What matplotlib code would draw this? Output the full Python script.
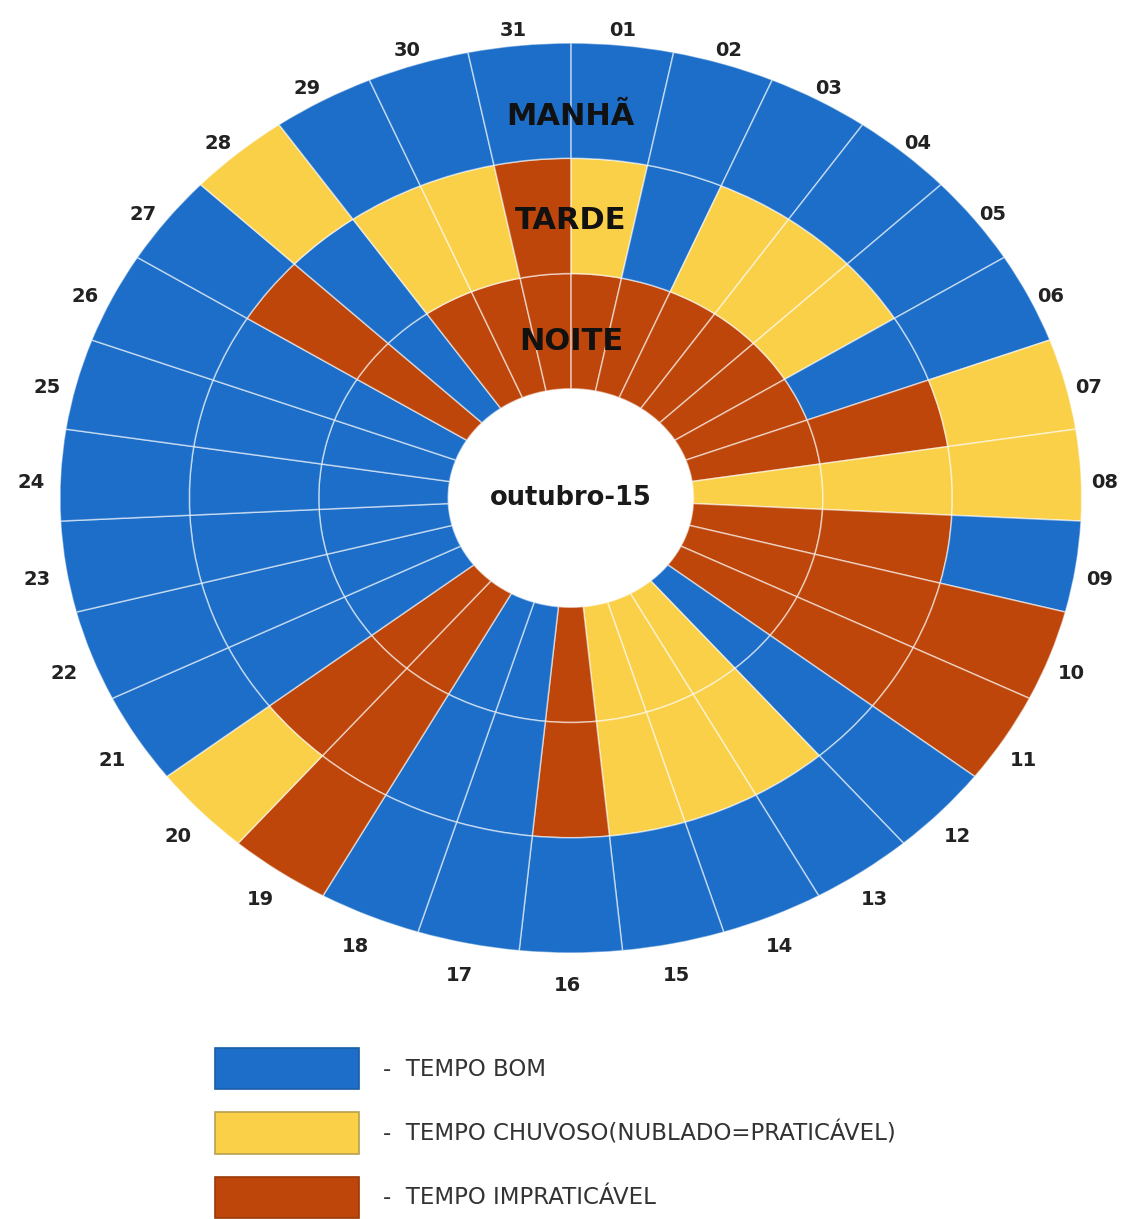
import numpy as np
import matplotlib.pyplot as plt
from matplotlib.patches import Patch
from matplotlib.transforms import ScaledTranslation

# one entry per day of the month, B = tempo bom, Y = chuvoso, R = impraticável
days = [f'{d:02d}' for d in range(1, 32)]
manha = list('BBBBBBYYBRRBBBBBBBRYBBBBBBBYBBB')
tarde = list('YBYYYBRYRRRBYYYRBBRRBBBBBBRBYYR')
noite = list('RRRRRRRYRRRBYYYRBBRRBBBBBBRBRRR')

rings = [('NOITE', noite), ('TARDE', tarde), ('MANHÃ', manha)]
colors = {'B': '#1C6EC8', 'Y': '#FAD048', 'R': '#BE460A'}
legend_labels = ['-  TEMPO BOM',
                 '-  TEMPO CHUVOSO(NUBLADO=PRATICÁVEL)',
                 '-  TEMPO IMPRATICÁVEL']

hole = 0.24
ring_w = (1 - hole) / 3
name_r = [0.345, 0.611, 0.838]

fig = plt.figure(figsize=(11.29, 12.19), dpi=100)
ax = fig.add_axes([0.0531, 0.2182, 0.905, 0.7465], projection='polar')
ax.set_aspect('auto')
ax.set_theta_zero_location('N')
ax.set_theta_direction(-1)

width = 2 * np.pi / len(days)
theta = (np.arange(len(days)) + 0.5) * width

for i, (name, vals) in enumerate(rings):
    ax.bar(theta, ring_w, width=width, bottom=hole + i * ring_w,
           color=[colors[v] for v in vals],
           edgecolor=(1, 1, 1, 0.55), linewidth=1.1, align='center')
    ax.text(0, name_r[i], name, ha='center', va='center',
            fontsize=22, fontweight='bold', color='#111111')

# day labels sit on a ring slightly lower than the chart centre
shift = ax.transData + ScaledTranslation(-0.03, -0.09, fig.dpi_scale_trans)
for t, d in zip(theta, days):
    ax.text(t, 1.052, d, ha='center', va='center', fontsize=14,
            fontweight='bold', color='#222222', clip_on=False,
            transform=shift)

ax.text(0, 0, 'outubro-15', ha='center', va='center', fontsize=18.5,
        fontweight='bold', color='#1a1a1a')

ax.set_ylim(0, 1)
ax.set_xticks([])
ax.set_yticks([])
ax.grid(False)
ax.spines['polar'].set_visible(False)

handles = [Patch(facecolor=colors[k], edgecolor=e, linewidth=1.2)
           for k, e in zip('BYR', ['#1a5ea8', '#b8a050', '#9a3a08'])]
fig.legend(handles, legend_labels, loc='upper left',
           bbox_to_anchor=(215 / 1129, 1 - 1048 / 1219),
           frameon=False, fontsize=16.5, handlelength=6.3, handleheight=2.4,
           labelspacing=1.0, handletextpad=1.05, borderpad=0,
           borderaxespad=0, labelcolor='#333333')

fig.savefig('out.png', dpi=100)
